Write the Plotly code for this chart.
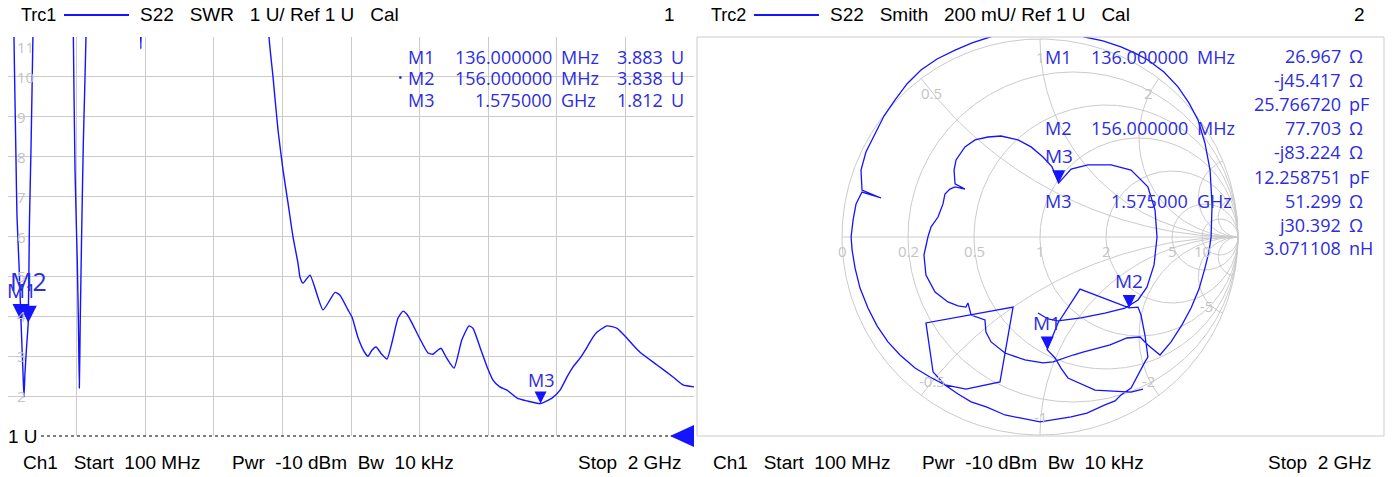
import numpy as np
import plotly.graph_objects as go

W, H = 1392, 477

# ---------------- Trace 1 : S22 SWR ----------------
freq_mhz = [100, 105, 110, 113.8, 116.6, 119.4, 122.2, 124.9, 130.5, 136, 141.5, 144.3, 147, 152, 156,
            159.3, 163.7, 169, 175, 200, 250, 275, 281, 285.6, 292, 295, 297.6, 300, 304, 308.6, 316,
            325, 400, 460, 465, 468, 471, 480, 600, 750, 800, 822.9, 834, 847.8, 861.7, 875.5, 889.4,
            903.2, 908.8, 917.1, 936.5, 972.5, 1005.7, 1019.5, 1041.7, 1052.8, 1070, 1088.8, 1097.1,
            1108, 1119.2, 1135, 1149.7, 1165, 1180, 1194, 1205, 1218.9, 1240, 1263.3, 1277.1, 1290,
            1299.3, 1315, 1335.3, 1357, 1376.8, 1387.9, 1407, 1427, 1443.3, 1462, 1482.1, 1509.8,
            1537.5, 1575, 1606.7, 1629, 1648.3, 1665, 1684.3, 1704, 1720.3, 1731, 1759, 1787, 1814.5,
            1831, 1850.5, 1897.6, 1941.9, 1969.6, 2000]
swr = [30, 25, 18, 14, 11, 9.4, 7.9, 6.5, 5.3, 3.883, 2.6, 1.98, 2.58, 3.3, 3.838,
       6.3, 8.2, 11, 16, 30, 28, 15, 11, 7.67, 5.33, 3.83, 2.2, 3.83, 6.08, 8.34, 11,
       18, 30, 16, 12, 10.7, 12, 18, 30, 25, 16, 11, 10, 8.67, 7.67, 6.84, 5.99,
       5.33, 4.98, 4.83, 5.03, 4.16, 4.6, 4.53, 4.16, 3.98, 3.45, 3.08, 3.0,
       3.15, 3.23, 3.05, 2.93, 3.4, 3.95, 4.13, 4.05, 3.83, 3.45, 3.08, 3.05, 3.15,
       3.2, 2.95, 2.7, 3.41, 3.76, 3.7, 3.23, 2.73, 2.4, 2.23, 2.15, 1.95,
       1.88, 1.812, 1.95, 2.15, 2.48, 2.73, 2.95, 3.23, 3.48, 3.6, 3.76, 3.7, 3.45,
       3.28, 3.1, 2.78, 2.48, 2.28, 2.23]

marker_names = ["M1", "M2", "M3"]
marker_freq_mhz = [136.0, 156.0, 1575.0]
marker_freq_text = ["136.000000", "156.000000", "1.575000"]
marker_freq_unit = ["MHz", "MHz", "GHz"]
marker_swr = [3.883, 3.838, 1.812]

swr_grid_ticks = [2, 3, 4, 5, 6, 7, 8, 9, 10, 11]
freq_grid_ticks = [100 + 190 * k for k in range(11)]

# ---------------- Trace 2 : S22 Smith (reflection coefficient, mU) ----------------
s22_re_mU = [520, 460, 278, 141, 106, 76, 36, 91, 202, 450, 495, 510, 530, 545, 530, 495, 460, 409, 379,
             328, 237, 157, 66, 0, -101, -177, -268, -348, -414, -480,
             -374, -202, -136, -576, -540, -480,
             -556, -631, -707, -768, -823, -869, -909, -934, -949, -954, -944, -929, -899,
             -803, -899,
             -904, -879, -833, -788, -732, -672, -601, -520, -429, -343, -253,
             -152, -15, 101, 227,
             318, 409, 480, 545, 626, 697, 752, 798, 833, 859, 869, 864, 853, 833, 803, 763, 717, 662, 606,
             545, 505, 439, 354, 217, 167, 66, 15, -76, -177, -247, -273, -278, -348, -364, -374, -414,
             -465, -530, -576, -586, -566, -550, -515, -490, -480, -455, -429, -379, -429, -434, -424,
             -379, -328, -263, -197, -111, -45, 15, 61,
             94,
             157, 242, 359, 460, 545, 581, 591, 576, 540, 495, 429, 328, 207, 91, 40, -10]
s22_im_mU = [-768, -783, -773, -712, -662, -611, -569, -434, -263, -358, -354, -394, -495, -606, -631, -697, -763, -798, -828,
             -848, -889, -909, -924, -934, -914, -899, -859, -833, -793, -747,
             -768, -732, -354, -434, -682, -747,
             -707, -662, -596, -530, -449, -359, -258, -157, -66, 0, 86, 167, 227,
             197, 237,
             338, 429, 520, 611, 692, 773, 843, 899, 944, 980, 1010,
             1040, 1050, 1040, 1010,
             990, 960, 929, 894, 833, 758, 677, 591, 475, 338, 162, 0, -76, -157, -263, -359, -444, -530, -596,
             -545, -505, -510, -545, -581, -596, -631, -636, -621, -586, -530, -480, -419, -394, -333, -354, -348,
             -328, -278, -192, -91, 0, 51, 101, 167, 217, 242, 253, 242, 268, 338,
             389, 455, 490, 505, 510, 490, 455, 404, 354,
             272,
             343, 364, 364, 338, 253, 136, 0, -141, -253, -318, -359, -384, -409, -424, -414, -384]

smith_R_ohm = [26.967, 77.703, 51.299]
smith_X_ohm = [-45.417, -83.224, 30.392]
smith_LC_text = ["25.766720", "12.258751", "3.071108"]
smith_LC_unit = ["pF", "pF", "nH"]
Z0 = 50.0

r_circles = [0.2, 0.5, 1, 2, 5, 10]
x_arcs = [0.5, 1, 2, 5, 10]
r_label_vals = [0, 0.2, 0.5, 1, 2, 5, 10]
r_label_text = ["0", "0.2", "0.5", "1", "2", "5", "10"]
x_label_vals = [0.5, 1, 2, -0.5, -1, -2, -5]
x_label_text = ["0.5", "1", "2", "-0.5", "-1", "-2", "-5"]

# ---------------- styling ----------------
BLUE = "#1414ff"
TXT_BLUE = "#2c2ce0"
GRID = "#cbcbcb"
LBL = "#c4c4c4"
UI_FONT = "Liberation Sans Narrow, Liberation Sans, Arial, sans-serif"
MK_FONT = "Open Sans, Noto Sans, sans-serif"
NB2 = "\u00a0\u00a0"
NB3 = "\u00a0\u00a0\u00a0"


def px(x):
    return x / W


def py(y):
    return 1 - y / H


fig = go.Figure()

# ---- SWR trace ----
fig.add_trace(go.Scatter(x=freq_mhz, y=swr, mode="lines",
                         line=dict(color=BLUE, width=1.4, shape="spline", smoothing=0.5),
                         xaxis="x", yaxis="y", hoverinfo="skip", showlegend=False))

# ---- Smith grid ----
gx, gy = [], []
th = np.linspace(0, 2 * np.pi, 721)
for r in [0] + r_circles:
    c, rad = r / (1 + r), 1 / (1 + r)
    gx += list(c + rad * np.cos(th)) + [None]
    gy += list(rad * np.sin(th)) + [None]
rr = np.concatenate([np.linspace(0, 2, 300), np.logspace(np.log10(2.01), 4, 300)])
for xv in x_arcs:
    for s in (1, -1):
        z = rr + 1j * s * xv
        g = (z - 1) / (z + 1)
        gx += list(g.real) + [None]
        gy += list(g.imag) + [None]
gx += [-1, 1, None]
gy += [0, 0, None]
fig.add_trace(go.Scatter(x=gx, y=gy, mode="lines", line=dict(color=GRID, width=1),
                         xaxis="x2", yaxis="y2", hoverinfo="skip", showlegend=False))

# ---- Smith trace ----
fig.add_trace(go.Scatter(x=np.array(s22_re_mU) / 1000.0, y=np.array(s22_im_mU) / 1000.0, mode="lines",
                         line=dict(color=BLUE, width=1.3), xaxis="x2", yaxis="y2",
                         hoverinfo="skip", showlegend=False))

shapes = []
ann = []

# ---- SWR markers ----
for i, (f, v) in enumerate(zip(marker_freq_mhz, marker_swr)):
    big = i < 2
    hw, hh = (8.5, 17) if big else (6, 12)
    shapes.append(dict(type="path", xref="x", yref="y", xsizemode="pixel", ysizemode="pixel",
                       xanchor=f, yanchor=v, path=f"M {-hw},{hh} L {hw},{hh} L 0,0 Z",
                       fillcolor=BLUE, line=dict(width=0)))
fs_lbl = [20, 25, 18]
ysh = [17, 25, 12]
for i in [0, 1, 2]:
    ann.append(dict(x=marker_freq_mhz[i], y=marker_swr[i], xref="x", yref="y", text=marker_names[i],
                    showarrow=False, yanchor="bottom", yshift=ysh[i] - 2,
                    font=dict(family=MK_FONT, size=fs_lbl[i], color=TXT_BLUE)))

# ---- SWR y labels ----
for t in swr_grid_ticks:
    ann.append(dict(x=px(15), y=t, xref="paper", yref="y", text=str(t), showarrow=False,
                    xanchor="left", yanchor="middle", yshift=-10 if t == 11 else 0,
                    font=dict(family=MK_FONT, size=15, color=LBL)))

# ---- reference line ----
shapes.append(dict(type="line", xref="x domain", yref="y domain", x0=33 / 686, x1=1 - 22 / 686, y0=0, y1=0,
                   line=dict(color="black", width=1, dash="dot")))
shapes.append(dict(type="path", xref="x domain", yref="y domain", xsizemode="pixel", ysizemode="pixel",
                   xanchor=1, yanchor=0, path="M -24,0 L 0,11 L 0,-11 Z", fillcolor=BLUE, line=dict(width=0)))
ann.append(dict(x=px(6), y=1, xref="paper", yref="y", text="1 U", showarrow=False, xanchor="left",
                yanchor="middle", font=dict(family=UI_FONT, size=19, color="black")))

# ---- SWR marker table ----
rows_y = [57, 78, 100]
for i in range(3):
    y = py(rows_y[i])
    fnt = dict(family=MK_FONT, size=18, color=TXT_BLUE)
    ann.append(dict(x=px(406), y=y, xref="paper", yref="paper", text=marker_names[i], showarrow=False,
                    xanchor="left", yanchor="middle", font=fnt))
    ann.append(dict(x=px(554), y=y, xref="paper", yref="paper", text=marker_freq_text[i], showarrow=False,
                    xanchor="right", yanchor="middle", font=fnt))
    ann.append(dict(x=px(559), y=y, xref="paper", yref="paper", text=marker_freq_unit[i], showarrow=False,
                    xanchor="left", yanchor="middle", font=fnt))
    ann.append(dict(x=px(665), y=y, xref="paper", yref="paper", text=f"{marker_swr[i]:.3f}", showarrow=False,
                    xanchor="right", yanchor="middle", font=fnt))
    ann.append(dict(x=px(669), y=y, xref="paper", yref="paper", text="U", showarrow=False,
                    xanchor="left", yanchor="middle", font=fnt))
ann.append(dict(x=px(405), y=py(78), xref="paper", yref="paper", text="•", showarrow=False,
                xanchor="right", yanchor="middle", font=dict(family=MK_FONT, size=12, color=TXT_BLUE)))

# ---- Smith labels ----
for v, t in zip(r_label_vals, r_label_text):
    ann.append(dict(x=(v - 1) / (v + 1), y=0, xref="x2", yref="y2", text=t, showarrow=False,
                    xanchor="center", yanchor="middle", yshift=-14,
                    font=dict(family=MK_FONT, size=15, color=LBL)))
for v, t in zip(x_label_vals, x_label_text):
    g = (1j * v - 1) / (1j * v + 1) * 0.91
    ann.append(dict(x=g.real, y=g.imag, xref="x2", yref="y2", text=t, showarrow=False,
                    xanchor="center", yanchor="middle",
                    font=dict(family=MK_FONT, size=15, color=LBL)))

# ---- Smith markers ----
zm = (np.array(smith_R_ohm) + 1j * np.array(smith_X_ohm)) / Z0
gm = (zm - 1) / (zm + 1)
for i in range(3):
    shapes.append(dict(type="path", xref="x2", yref="y2", xsizemode="pixel", ysizemode="pixel",
                       xanchor=gm[i].real, yanchor=gm[i].imag, path="M -6.5,13 L 6.5,13 L 0,0 Z",
                       fillcolor=BLUE, line=dict(width=0)))
    ann.append(dict(x=gm[i].real, y=gm[i].imag, xref="x2", yref="y2", text=marker_names[i],
                    showarrow=False, yanchor="bottom", yshift=12,
                    font=dict(family=MK_FONT, size=19, color=TXT_BLUE)))

# ---- Smith marker table ----
name_y = [57, 128, 201]
val_y = [[56, 80, 104], [128, 152, 177], [201, 225, 248]]
for i in range(3):
    fnt = dict(family=MK_FONT, size=18, color=TXT_BLUE)
    y = py(name_y[i])
    ann.append(dict(x=px(1043), y=y, xref="paper", yref="paper", text=marker_names[i], showarrow=False,
                    xanchor="left", yanchor="middle", font=fnt))
    ann.append(dict(x=px(1190), y=y, xref="paper", yref="paper", text=marker_freq_text[i], showarrow=False,
                    xanchor="right", yanchor="middle", font=fnt))
    ann.append(dict(x=px(1195), y=y, xref="paper", yref="paper", text=marker_freq_unit[i], showarrow=False,
                    xanchor="left", yanchor="middle", font=fnt))
    xv = smith_X_ohm[i]
    xtxt = ("-j" if xv < 0 else "j") + f"{abs(xv):.3f}"
    vals = [f"{smith_R_ohm[i]:.3f}", xtxt, smith_LC_text[i]]
    units = ["Ω", "Ω", smith_LC_unit[i]]
    for k in range(3):
        yy = py(val_y[i][k])
        ann.append(dict(x=px(1343), y=yy, xref="paper", yref="paper", text=vals[k], showarrow=False,
                        xanchor="right", yanchor="middle", font=fnt))
        ann.append(dict(x=px(1347), y=yy, xref="paper", yref="paper", text=units[k], showarrow=False,
                        xanchor="left", yanchor="middle", font=fnt))

# ---- Smith panel border ----
shapes.append(dict(type="rect", xref="x2 domain", yref="y2 domain", x0=0, x1=1, y0=0, y1=1,
                   line=dict(color=GRID, width=1)))

# ---- headers / footers ----
hfont = dict(family=UI_FONT, size=19, color="black")
for off, trc, desc, num in [(0, "Trc1", "S22" + NB3 + "SWR" + NB3 + "1 U/ Ref 1 U" + NB3 + "Cal", "1"),
                            (690, "Trc2", "S22" + NB3 + "Smith" + NB3 + "200 mU/ Ref 1 U" + NB3 + "Cal", "2")]:
    ann.append(dict(x=px(19 + off), y=py(15), xref="paper", yref="paper", text=trc, showarrow=False,
                    xanchor="left", yanchor="middle", font=dict(family=UI_FONT, size=18, color="black")))
    shapes.append(dict(type="line", xref="paper", yref="paper", x0=px(64 + off), x1=px(129 + off),
                       y0=py(15), y1=py(15), line=dict(color=BLUE, width=2)))
    ann.append(dict(x=px(138 + off), y=py(15), xref="paper", yref="paper", text=desc, showarrow=False,
                    xanchor="left", yanchor="middle", font=hfont))
    ann.append(dict(x=px(677 + off), y=py(15), xref="paper", yref="paper", text=num, showarrow=False,
                    xanchor="right", yanchor="middle", font=hfont))
    ann.append(dict(x=px(21 + off), y=py(462), xref="paper", yref="paper",
                    text="Ch1" + NB3 + "Start" + NB2 + "100 MHz", showarrow=False,
                    xanchor="left", yanchor="middle", font=hfont))
    ann.append(dict(x=px(230 + off), y=py(462), xref="paper", yref="paper",
                    text="Pwr" + NB2 + "-10 dBm" + NB2 + "Bw" + NB2 + "10 kHz", showarrow=False,
                    xanchor="left", yanchor="middle", font=hfont))
    ann.append(dict(x=px(684 + off), y=py(462), xref="paper", yref="paper",
                    text="Stop" + NB2 + "2 GHz", showarrow=False,
                    xanchor="right", yanchor="middle", font=hfont))

ydom = [1 - 436 / H, 1 - 37 / H]
fig.update_layout(
    width=W, height=H, autosize=False,
    margin=dict(l=0, r=0, t=0, b=0, pad=0),
    paper_bgcolor="white", plot_bgcolor="white",
    showlegend=False,
    xaxis=dict(domain=[px(8), px(694)], range=[100, 2000], tickvals=freq_grid_ticks, showticklabels=False,
               showgrid=True, gridcolor=GRID, gridwidth=1, zeroline=False, showline=False, ticks="",
               fixedrange=True),
    yaxis=dict(domain=ydom, range=[1, 11], tickvals=swr_grid_ticks, showticklabels=False,
               showgrid=True, gridcolor=GRID, gridwidth=1, zeroline=False, showline=False, ticks="",
               fixedrange=True),
    xaxis2=dict(domain=[px(697), px(1384)], range=[(697 - 1040) / 198, (1384 - 1040) / 198], visible=False,
                anchor="y2", fixedrange=True),
    yaxis2=dict(domain=ydom, range=[(237 - 436) / 198, (237 - 37) / 198], visible=False,
                anchor="x2", fixedrange=True),
    shapes=shapes,
    annotations=ann,
)

fig.write_html("out.html", config={"displayModeBar": False},
               post_script="document.body.style.margin='0px';document.body.style.overflow='hidden';")
